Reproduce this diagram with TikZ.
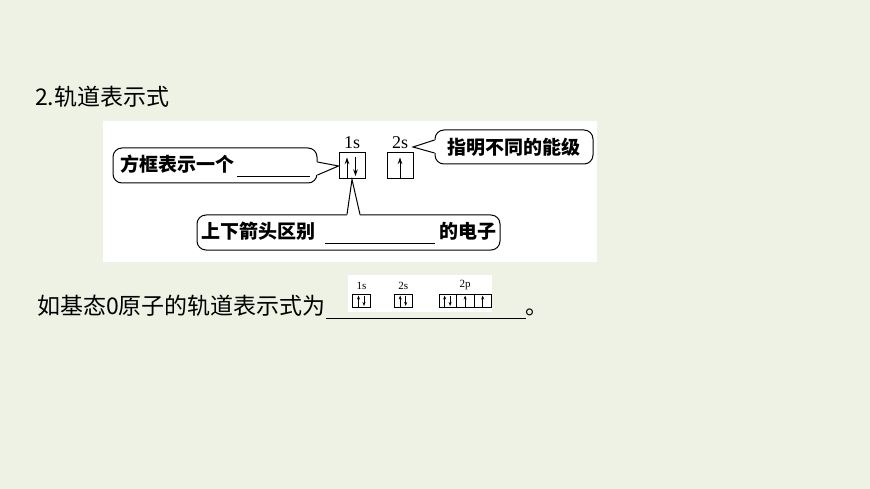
\documentclass[tikz,border=0pt]{standalone}
\usepackage{fontspec}
\setmainfont{Liberation Serif}
\newfontfamily\cjk{Noto Sans CJK SC}
\usetikzlibrary{arrows.meta,positioning}

\definecolor{slidebg}{RGB}{237,242,229}

\begin{document}
\begin{tikzpicture}[x=1pt,y=-1pt,>={Stealth[length=6.5pt,width=4.5pt]},
  every node/.style={inner sep=0pt},
  note/.style={draw,line width=1pt,rounded corners=9pt,fill=white,
    font=\cjk\bfseries\fontsize{19}{19}\selectfont},
  orb/.style={draw,line width=1pt,minimum width=26pt,minimum height=26pt},
  sorb/.style={draw,line width=0.7pt,minimum width=18pt,minimum height=13pt},
  spin/.style={->,line width=1pt},
  sspin/.style={-{Stealth[length=4pt,width=3pt]},line width=0.7pt},
  ptr/.style={line width=1pt}]
  % slide and panels
  \fill[slidebg] (0,0) rectangle (870,489);
  \fill[white] (103,121) rectangle (597,262);
  \fill[white] (348,275) rectangle (492,312);

  \node[anchor=west,font=\cjk\fontsize{23}{23}\selectfont] (title) at (35,97) {2.轨道表示式};

  % orbital boxes
  \node[orb] (orb1s) at (352,166) {};
  \node[orb,right=21pt of orb1s] (orb2s) {};
  \node[above=4pt of orb1s,font=\fontsize{18}{18}\selectfont] (lbl1s) {1s};
  \node[above=4pt of orb2s,font=\fontsize{18}{18}\selectfont] (lbl2s) {2s};
  \draw[spin] ([xshift=-5pt]orb1s.south) -- ([xshift=-5pt,yshift=8.5pt]orb1s.center);
  \draw[spin] ([xshift=3.5pt,yshift=8.5pt]orb1s.center) -- ([xshift=3.5pt,yshift=-10pt]orb1s.center);
  \draw[spin] (orb2s.south) -- ([yshift=8.5pt]orb2s.center);

  % callouts
  \node[note,minimum width=204pt,minimum height=35pt] (boxnote) at (215,165.5)
    {方框表示一个\hspace{3pt}\rule[-5pt]{73pt}{0.7pt}};
  \node[note,minimum width=158pt,minimum height=34pt] (levelnote) at (514,147)
    {指明不同的能级};
  \node[note,minimum width=303pt,minimum height=35pt] (spinnote) at (348.5,232.5)
    {上下箭头区别\hspace{10pt}\rule[-5pt]{110pt}{0.7pt}\hspace{4pt}的电子};
  \coordinate (levelptr) at (413,147);

  % pointers
  \fill[white] ([xshift=-1.5pt,yshift=3.5pt]boxnote.east) -- (orb1s.west)
    -- ([xshift=-1.5pt,yshift=-9.5pt]boxnote.east) -- cycle;
  \draw[ptr] ([yshift=3.5pt]boxnote.east) -- (orb1s.west) -- ([yshift=-9.5pt]boxnote.east);
  \fill[white] ([xshift=1.5pt,yshift=7pt]levelnote.west) -- (levelptr)
    -- ([xshift=1.5pt,yshift=-6pt]levelnote.west) -- cycle;
  \draw[ptr] ([yshift=7pt]levelnote.west) -- (levelptr) -- ([yshift=-6pt]levelnote.west);
  \fill[white] ([xshift=-1.5pt,yshift=-1.5pt]spinnote.north) -- (orb1s.south)
    -- ([xshift=11.5pt,yshift=-1.5pt]spinnote.north) -- cycle;
  \draw[ptr] ([xshift=-1.5pt]spinnote.north) -- (orb1s.south) -- ([xshift=11.5pt]spinnote.north);

  % oxygen example
  \node[anchor=west,font=\cjk\fontsize{23}{23}\selectfont] (question) at (37,307)
    {如基态0原子的轨道表示式为\rule[-4pt]{200pt}{0.8pt}。};

  \node[sorb] (s1s) at (361.5,300.5) {};
  \node[sorb,right=23pt of s1s] (s2s) {};
  \node[sorb,minimum width=17.5pt,right=26pt of s2s] (s2pa) {};
  \node[sorb,minimum width=17.5pt,right=-0.7pt of s2pa] (s2pb) {};
  \node[sorb,minimum width=17.5pt,right=-0.7pt of s2pb] (s2pc) {};
  \node[above=4pt of s1s,font=\fontsize{11}{11}\selectfont] (sl1s) {1s};
  \node[above=4pt of s2s,font=\fontsize{11}{11}\selectfont] (sl2s) {2s};
  \node[above=4pt of s2pb,font=\fontsize{11}{11}\selectfont] (sl2p) {2p};
  \foreach \b in {s1s,s2s,s2pa}{
    \draw[sspin] ([xshift=-3pt]\b.south) -- ([xshift=-3pt,yshift=5pt]\b.center);
    \draw[sspin] ([xshift=2.5pt,yshift=5pt]\b.center) -- ([xshift=2.5pt,yshift=-5.5pt]\b.center);
  }
  \foreach \b in {s2pb,s2pc}
    \draw[sspin] (\b.south) -- ([yshift=5pt]\b.center);
\end{tikzpicture}
\end{document}
